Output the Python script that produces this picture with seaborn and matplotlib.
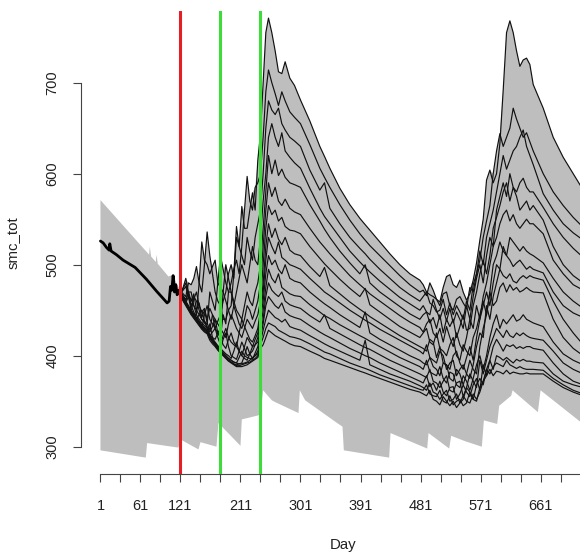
import numpy as np
import pandas as pd
import matplotlib
matplotlib.use("Agg")
import matplotlib.pyplot as plt
import seaborn as sns

# ---------------- data ----------------
# single run before assimilation start
days_obs = [1, 5, 10, 14, 15, 17, 25, 35, 53, 70, 85, 101, 104, 106, 108, 110, 112, 114, 116, 119, 121]
vals_obs = [526, 524, 519, 516, 523, 515, 511, 505, 497, 484, 471, 458, 460, 476, 472, 488, 470, 478, 467, 472, 468]

# ensemble members after day 121 (common day grid)
days_m = [121, 125, 129, 133, 137, 141, 145, 149, 153, 157, 161, 165, 169, 173, 177, 181, 185, 189, 193, 197,
          201, 205, 209, 213, 217, 221, 225, 229, 233, 237, 241,
          245, 249, 253, 258, 263, 268, 273, 278, 285, 292,
          301, 315, 330, 337, 345, 360, 375, 390, 398, 405, 420, 435, 450, 465, 480,
          485, 490, 495, 500, 505, 510, 515, 520, 525, 530, 535, 540, 545, 550, 555, 560, 565, 570, 575, 580,
          585, 590, 595, 600, 605, 610, 615, 620, 625, 630, 635, 640, 645, 650,
          665, 680, 695, 710, 725]

m01 = [470, 466, 462, 470, 455, 462, 470, 455, 448, 452, 440, 452, 445, 430, 438, 445, 460, 470, 490, 500,
       485, 530, 520, 564, 540, 540, 560, 579, 560, 615, 644,
       700, 755, 771, 755, 735, 712, 710, 723, 705, 697,
       681, 658, 630, 619, 606, 584, 566, 551, 544, 538, 525, 512, 500, 490, 483,
       478, 470, 467, 465, 462, 459, 475, 487, 489, 478, 475, 483, 470, 461, 468, 483, 502, 527, 550, 593,
       604, 590, 600, 633, 692, 755, 768, 755, 735, 718, 725, 727, 720, 698,
       672, 640, 618, 600, 582]
m02 = [468, 475, 485, 470, 460, 468, 450, 458, 442, 450, 436, 428, 445, 440, 425, 420, 445, 435, 470, 480,
       495, 505, 490, 520, 560, 597, 570, 560, 585, 590, 600,
       640, 690, 714, 700, 688, 675, 690, 680, 668, 662,
       655, 632, 606, 596, 585, 566, 549, 534, 527, 521, 510, 499, 488, 478, 470,
       472, 466, 480, 472, 462, 455, 468, 470, 455, 450, 462, 465, 458, 452, 475, 470, 490, 505, 530, 548,
       565, 600, 625, 644, 630, 640, 650, 672, 660, 650, 640, 645, 635, 625,
       600, 580, 565, 552, 541]
m03 = [472, 468, 465, 480, 478, 485, 498, 480, 470, 500, 536, 510, 490, 470, 460, 455, 440, 440, 450, 455,
       490, 542, 520, 510, 500, 530, 515, 505, 530, 545, 560,
       600, 650, 680, 670, 665, 672, 655, 648, 640, 636,
       630, 604, 582, 590, 562, 545, 530, 518, 512, 506, 495, 485, 475, 467, 460,
       465, 470, 458, 455, 448, 450, 462, 445, 458, 445, 455, 448, 440, 460, 450, 478, 490, 515, 500, 530,
       545, 560, 580, 600, 620, 605, 615, 625, 630, 640, 648, 630, 620, 610,
       578, 560, 545, 535, 527]
m04 = [466, 462, 458, 465, 450, 446, 445, 480, 525, 505, 500, 490, 498, 505, 480, 475, 470, 460, 450, 440,
       455, 470, 485, 500, 490, 480, 500, 520, 505, 500, 530,
       570, 600, 640, 655, 640, 630, 645, 625, 618, 612,
       606, 584, 562, 553, 545, 530, 515, 503, 497, 492, 482, 473, 464, 457, 450,
       455, 448, 445, 462, 450, 440, 452, 438, 452, 436, 448, 440, 430, 455, 440, 465, 485, 500, 480, 510,
       530, 520, 560, 575, 590, 575, 600, 585, 580, 590, 595, 585, 580, 580,
       563, 545, 530, 518, 508]
m05 = [469, 472, 476, 465, 462, 455, 450, 445, 440, 438, 434, 470, 460, 450, 480, 510, 495, 480, 470, 470,
       460, 450, 445, 440, 455, 470, 460, 455, 470, 480, 500,
       540, 580, 620, 600, 615, 598, 605, 596, 590, 588,
       585, 566, 548, 539, 530, 515, 502, 490, 500, 480, 470, 462, 454, 446, 440,
       445, 448, 436, 442, 430, 445, 425, 440, 432, 440, 420, 432, 445, 428, 430, 455, 470, 490, 505, 490,
       510, 540, 552, 565, 580, 590, 570, 585, 575, 560, 565, 570, 560, 565,
       549, 520, 500, 488, 480]
m06 = [467, 462, 457, 452, 447, 465, 460, 450, 440, 436, 432, 426, 432, 440, 435, 430, 470, 500, 485, 470,
       455, 445, 435, 430, 440, 455, 450, 440, 450, 460, 480,
       520, 560, 590, 575, 585, 570, 565, 572, 562, 558,
       555, 540, 525, 519, 512, 500, 488, 478, 473, 468, 460, 452, 444, 437, 431,
       426, 435, 440, 425, 420, 430, 415, 432, 420, 410, 425, 412, 405, 420, 440, 430, 455, 440, 465, 480,
       500, 520, 530, 545, 555, 560, 548, 555, 545, 540, 545, 550, 545, 545,
       534, 505, 490, 478, 472]
m07 = [468, 464, 460, 470, 470, 455, 445, 440, 436, 433, 430, 423, 420, 418, 425, 430, 425, 420, 435, 445,
       438, 430, 425, 420, 430, 440, 435, 430, 438, 445, 460,
       500, 540, 565, 555, 560, 548, 552, 542, 538, 537,
       534, 520, 507, 501, 495, 484, 474, 465, 474, 456, 448, 440, 432, 426, 420,
       425, 430, 415, 412, 425, 408, 405, 400, 412, 420, 400, 395, 412, 405, 400, 420, 430, 445, 460, 445,
       470, 500, 510, 525, 515, 510, 530, 525, 520, 515, 520, 515, 512, 510,
       502, 485, 470, 460, 452]
m08 = [466, 461, 456, 451, 446, 442, 438, 434, 430, 445, 455, 440, 435, 430, 420, 412, 422, 430, 420, 415,
       412, 410, 425, 440, 432, 425, 418, 415, 422, 430, 450,
       480, 520, 545, 530, 540, 528, 522, 530, 516, 512,
       510, 498, 487, 497, 477, 468, 459, 451, 447, 443, 436, 429, 422, 416, 410,
       408, 405, 418, 415, 398, 410, 392, 390, 385, 400, 405, 392, 385, 398, 410, 395, 420, 440, 455, 470,
       455, 480, 500, 495, 520, 510, 505, 498, 502, 505, 500, 495, 498, 495,
       491, 470, 455, 447, 442]
m09 = [469, 464, 459, 454, 449, 445, 441, 437, 433, 430, 428, 422, 426, 430, 425, 420, 412, 408, 418, 425,
       415, 410, 405, 400, 410, 420, 415, 410, 418, 425, 445,
       470, 505, 530, 520, 512, 525, 508, 505, 500, 498,
       495, 485, 475, 470, 466, 458, 450, 443, 439, 436, 429, 423, 417, 411, 405,
       402, 412, 398, 395, 392, 405, 400, 385, 392, 395, 378, 385, 390, 380, 375, 390, 410, 425, 420, 455,
       440, 465, 480, 495, 488, 485, 490, 482, 480, 485, 488, 485, 488, 486,
       483, 460, 440, 425, 412]
m10 = [467, 474, 480, 465, 455, 448, 442, 438, 434, 431, 428, 421, 418, 414, 410, 407, 418, 425, 410, 400,
       398, 396, 405, 415, 408, 400, 402, 405, 412, 420, 440,
       460, 490, 510, 500, 505, 495, 490, 500, 485, 482,
       480, 470, 461, 457, 453, 445, 438, 431, 448, 425, 418, 412, 406, 400, 395,
       392, 390, 398, 388, 385, 378, 392, 390, 375, 372, 385, 380, 368, 380, 395, 385, 380, 410, 430, 445,
       470, 455, 460, 475, 480, 470, 478, 472, 475, 470, 472, 475, 472, 470,
       469, 440, 420, 408, 400]
m11 = [468, 463, 458, 453, 448, 444, 440, 445, 450, 438, 430, 422, 418, 415, 411, 408, 405, 402, 400, 397,
       405, 415, 405, 400, 397, 395, 402, 410, 412, 415, 430,
       450, 475, 495, 485, 480, 490, 475, 472, 468, 466,
       465, 456, 448, 444, 441, 434, 428, 422, 419, 416, 410, 404, 398, 393, 388,
       385, 395, 382, 380, 378, 388, 375, 370, 382, 380, 368, 365, 378, 372, 362, 375, 390, 400, 385, 400,
       420, 435, 445, 430, 440, 435, 440, 445, 438, 440, 445, 440, 438, 436,
       432, 415, 402, 395, 390]
m12 = [466, 461, 456, 451, 446, 442, 438, 434, 430, 427, 425, 435, 420, 413, 410, 406, 403, 400, 397, 395,
       393, 392, 398, 405, 400, 398, 397, 396, 403, 410, 425,
       440, 465, 480, 472, 468, 465, 470, 460, 456, 454,
       452, 444, 437, 445, 430, 424, 418, 412, 409, 407, 401, 395, 390, 385, 380,
       378, 376, 385, 372, 370, 365, 372, 378, 362, 360, 370, 372, 355, 365, 380, 372, 365, 395, 380, 395,
       410, 420, 430, 425, 420, 428, 422, 420, 425, 422, 425, 422, 420, 419,
       417, 405, 392, 385, 380]
m13 = [470, 465, 460, 455, 450, 445, 441, 437, 433, 430, 428, 420, 416, 412, 408, 405, 401, 398, 395, 393,
       391, 390, 391, 392, 400, 410, 402, 397, 400, 405, 420,
       435, 455, 465, 460, 455, 452, 458, 448, 444, 442,
       440, 433, 426, 423, 420, 414, 408, 403, 400, 398, 392, 387, 382, 377, 372,
       370, 378, 366, 370, 362, 372, 360, 356, 365, 366, 352, 358, 368, 360, 355, 368, 375, 362, 390, 378,
       395, 410, 418, 412, 405, 412, 410, 412, 408, 410, 408, 410, 410, 408,
       406, 392, 380, 372, 368]
m14 = [467, 462, 457, 452, 447, 443, 439, 435, 431, 428, 426, 419, 415, 411, 407, 404, 401, 398, 395, 393,
       391, 389, 389, 390, 391, 392, 393, 395, 397, 400, 415,
       428, 440, 450, 446, 442, 440, 437, 440, 432, 430,
       428, 422, 416, 413, 410, 405, 400, 395, 417, 390, 385, 380, 376, 372, 367,
       365, 362, 370, 360, 358, 352, 358, 362, 350, 352, 358, 348, 352, 365, 360, 352, 368, 375, 368, 385,
       395, 385, 400, 398, 395, 398, 395, 392, 396, 394, 396, 394, 394, 393,
       392, 380, 372, 368, 365]
m15 = [468, 463, 458, 453, 449, 444, 440, 436, 432, 429, 427, 420, 416, 413, 409, 406, 403, 400, 397, 395,
       393, 392, 391, 391, 392, 393, 395, 398, 400, 402, 412,
       420, 430, 436, 434, 432, 428, 426, 424, 421, 420,
       418, 413, 407, 404, 402, 397, 392, 388, 386, 384, 379, 375, 371, 367, 363,
       362, 368, 358, 356, 355, 362, 350, 348, 356, 346, 350, 352, 345, 348, 360, 352, 350, 365, 372, 385,
       380, 388, 392, 390, 388, 395, 390, 388, 386, 388, 386, 385, 385, 385,
       384, 375, 368, 362, 358]
m16 = [466, 460, 455, 450, 445, 441, 437, 433, 429, 426, 424, 417, 413, 410, 406, 403, 400, 397, 394, 392,
       390, 388, 388, 388, 389, 390, 392, 394, 396, 398, 408,
       412, 420, 428, 425, 422, 420, 418, 416, 413, 411,
       410, 405, 400, 397, 395, 391, 387, 383, 381, 379, 375, 371, 367, 363, 360,
       358, 356, 362, 352, 350, 346, 355, 350, 345, 350, 343, 348, 356, 350, 348, 358, 352, 360, 372, 378,
       385, 378, 383, 382, 380, 384, 380, 382, 381, 380, 380, 381, 380, 380,
       380, 372, 365, 360, 356]

members = [m01, m02, m03, m04, m05, m06, m07, m08, m09, m10, m11, m12, m13, m14, m15, m16]
member_names = ["m%02d" % (i + 1) for i in range(len(members))]

# grey ensemble envelope: upper bound (pre-assimilation part, then on the member day grid)
env_days_pre = [1, 74, 75, 77, 84, 85, 87, 103, 110, 116]
env_up_pre = [571, 511, 520, 509, 503, 511, 501, 487, 489, 478]
env_up_grid = [472, 475, 485, 480, 478, 485, 498, 480, 525, 505, 536, 510, 498, 505, 480, 510, 495, 500, 490, 500,
               495, 542, 520, 564, 560, 597, 570, 579, 585, 615, 644,
               700, 755, 771, 755, 735, 712, 710, 723, 705, 697,
               681, 658, 630, 619, 606, 584, 566, 551, 544, 538, 525, 512, 500, 490, 483,
               478, 470, 480, 472, 462, 459, 475, 487, 489, 478, 475, 483, 470, 461, 475, 483, 502, 527, 550, 593,
               604, 600, 625, 644, 692, 755, 768, 755, 735, 718, 725, 727, 720, 698,
               672, 640, 618, 600, 582]
env_day_end = [730]
env_up_end = [578]

# lower bound
days_lo = [1, 69, 71, 118, 121, 148, 151, 175, 178, 211, 213, 241, 245, 258, 263, 298, 300, 308, 356,
           364, 366, 434, 436, 491, 493, 524, 527, 548, 573, 576, 596, 599, 617, 619, 657, 661, 730]
vals_lo = [296, 288, 304, 299, 308, 297, 305, 300, 326, 301, 330, 335, 362, 351, 349, 337, 362, 351, 326,
           322, 296, 288, 315, 298, 315, 298, 312, 306, 300, 329, 325, 345, 356, 362, 338, 362, 322]

x_ticks = [1, 31, 61, 91, 121, 151, 181, 211, 241, 271, 301, 331, 361, 391, 421, 451, 481, 511, 541,
           571, 601, 631, 661, 691, 721]
x_labels_shown = [1, 61, 121, 211, 301, 391, 481, 571, 661]
y_ticks = [300, 400, 500, 600, 700]
da_start = 121
green_days = [181, 241]

for m in members:
    assert len(m) == len(days_m), len(m)
assert len(env_up_grid) == len(days_m)

# ---------------- plot ----------------
sns.set_style("white")
plt.rcParams['font.family'] = ['Liberation Sans', 'DejaVu Sans']

fig = plt.figure(figsize=(5.8, 5.52), dpi=100)
ax = fig.add_axes([81 / 580, 78 / 552, 525 / 580, 463 / 552])

up_x = env_days_pre + days_m + env_day_end
up_y = env_up_pre + env_up_grid + env_up_end
poly_x = np.concatenate([up_x, days_lo[::-1]])
poly_y = np.concatenate([up_y, vals_lo[::-1]])
ax.fill(poly_x, poly_y, color="#BEBEBE", lw=0, zorder=1)

df = pd.DataFrame({
    "day": np.tile(days_m, len(members)),
    "smc_tot": np.concatenate(members),
    "member": np.repeat(member_names, len(days_m)),
})
sns.lineplot(data=df, x="day", y="smc_tot", units="member", estimator=None,
             color="#111111", lw=0.85, ax=ax, legend=False, sort=False, zorder=2)

sns.lineplot(x=days_obs, y=vals_obs, color="black", lw=2.0, ax=ax, sort=False, zorder=3)

ax.axvline(da_start, color="#E41E24", lw=2.2, zorder=4)
for g in green_days:
    ax.axvline(g, color="#3EDC3A", lw=2.2, zorder=4)

ax.set_xlim(-28.16, 759.16)
ax.set_ylim(270, 778.8)

for s in ["top", "right"]:
    ax.spines[s].set_visible(False)
ax.spines["left"].set_bounds(300, 700)
ax.spines["bottom"].set_bounds(1, 721)
for s in ["left", "bottom"]:
    ax.spines[s].set_color("#444444")
    ax.spines[s].set_linewidth(0.8)

ax.set_xticks(x_ticks)
ax.set_xticklabels([str(t) if t in x_labels_shown else "" for t in x_ticks])
ax.set_yticks(y_ticks)
ax.set_yticklabels([str(t) for t in y_ticks])
plt.setp(ax.get_yticklabels(), rotation=90, va="center")

ax.tick_params(axis="both", direction="out", length=6, width=0.8, color="#444444",
               labelsize=10.5, labelcolor="#222222", bottom=True, left=True)
ax.tick_params(axis="x", pad=12)
ax.tick_params(axis="y", pad=9.5)

ax.set_xlabel("Day", fontsize=10.8, labelpad=18, color="#222222")
ax.set_ylabel("smc_tot", fontsize=10.8, labelpad=18, color="#222222")

fig.savefig("out.png", dpi=100)
